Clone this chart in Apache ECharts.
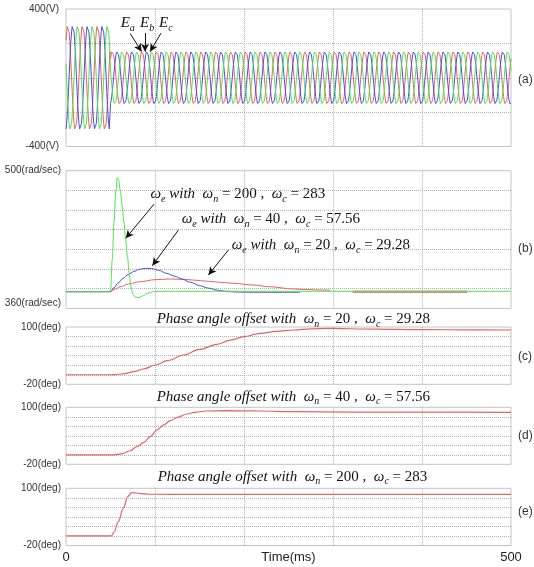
<!DOCTYPE html>
<html>
<head>
<meta charset="utf-8">
<script src="https://cdn.jsdelivr.net/npm/echarts@6/dist/echarts.min.js"></script>
<style>
  html, body { margin: 0; padding: 0; background: #fff; }
  #chart { width: 534px; height: 567px; }
</style>
</head>
<body>
<div id="chart"></div>
<script>
// ---------- (a) three-phase voltages ----------
// one 60 Hz cycle, 24 samples, normalised
const waveCycle = [1, 0.966, 0.866, 0.707, 0.5, 0.259, 0, -0.259, -0.5, -0.707, -0.866, -0.966,
                   -1, -0.966, -0.866, -0.707, -0.5, -0.259, 0, 0.259, 0.5, 0.707, 0.866, 0.966];
const cyclePeriodMs = 1000 / 60;
const phaseNames = ['Ea', 'Eb', 'Ec'];
const phasePeakSample = [3, 11, 19];      // where each phase peaks inside the cycle
const amplitudeBefore = 308;              // V, before the step
const amplitudeAfter = 155;               // V, after the step
const stepTimeMs = 50;

// ---------- (b) estimated speed, [ms, rad/s] ----------
const omegaWn200 = [[0, 377], [50, 377], [52, 410], [54, 448], [56, 480], [57.7, 493], [59, 491], [61, 480],
  [63, 465], [65, 448], [67, 431], [69, 413], [71, 396], [73, 382], [75, 374.5], [78, 371.5], [82, 371],
  [87, 373], [92, 375.5], [98, 377], [110, 377.4], [500, 377.4]];
const omegaWn40 = [[0, 377], [50, 377], [54, 381], [58, 385.5], [64, 390.5], [70, 394.5], [76, 397.5],
  [82, 399.6], [89, 400.8], [96, 400.5], [104, 398.8], [113, 395.7], [122, 392.8], [130, 390], [140, 386.5],
  [150, 383.2], [160, 380.6], [170, 378.6], [180, 377.3], [190, 376.7], [210, 376.4], [263, 376.4]];
const omegaWn20 = [[0, 377], [50, 377], [55, 379.5], [61, 382], [70, 384.8], [83, 387.1], [100, 389.2],
  [117, 389.9], [135, 389.4], [151, 388.2], [170, 386.8], [188, 385.5], [210, 383.8], [229, 382],
  [256, 379.7], [280, 378.8], [297, 378.5]];
const omegaWn20Tail = [[322, 377], [451, 377]];

// ---------- (c)(d)(e) phase angle offset, [ms, deg] ----------
const phaseWn20 = [[0, 0], [50, 0], [57, 0.5], [66, 2.5], [76, 6.4], [88, 12.5], [100, 20.4], [115, 30],
  [132, 41.4], [150, 53], [169.5, 63.8], [185, 72.5], [200, 79.7], [218, 86.8], [236, 91], [256, 93.7],
  [275, 96], [293, 97.3], [310, 96.8], [330, 95.8], [370, 95], [405, 94.4], [450, 94], [500, 93.7]];
const phaseWn40 = [[0, 0], [51, 0], [58, 1], [64.4, 3.2], [72, 8.5], [79.5, 17], [87, 25.5], [95, 39],
  [102, 52.2], [110, 63], [117, 71.8], [126, 79.5], [135.7, 85.9], [146, 90], [158, 92.2], [180, 92.8],
  [203, 92.5], [218, 92.2], [256, 90.7], [320, 90], [400, 89.7], [500, 89.5]];
const phaseWn200 = [[0, 0], [51, 0], [54, 8], [58.8, 30], [64.4, 58], [69.3, 82.4], [73.8, 90.8],
  [77, 90.6], [81.3, 89.6], [88, 88.3], [94.4, 87.5], [150, 87.4], [500, 87.4]];

// axis end labels
const voltLabels = { '400': '400(V)', '-400': '-400(V)' };
const speedLabels = { '500': '500(rad/sec)', '360': '360(rad/sec)' };
const degLabels = { '100': '100(deg)', '-20': '-20(deg)' };
const timeLabels = { '0': '0', '500': '500' };

// annotation arrows [t0, v0, t1, v1] in data units (arrow head at the second point)
const voltArrows = [[72, 258, 85, 152], [88.8, 260, 88.8, 152], [106.8, 260, 94.4, 152]];
const speedArrows = [[98.9, 466, 67.1, 431.3], [126.3, 439.7, 97, 403.4], [182.5, 419.4, 160, 394]];

// ---------- build ----------
const dt = cyclePeriodMs / waveCycle.length;
const stepIndex = Math.round(stepTimeMs / dt);
const sampleCount = Math.round(500 / dt);
function phaseData(peak) {
  const out = [];
  for (let k = 0; k <= sampleCount; k++) {
    const amp = k < stepIndex ? amplitudeBefore : amplitudeAfter;
    const n = waveCycle.length;
    out.push([k * dt, amp * waveCycle[((k - peak) % n + n) % n]]);
  }
  return out;
}

const RED = '#e46464', BLUE = '#4b4be6', GREEN = '#4fe34f';
const sans = '"Liberation Sans", Arial, sans-serif';
const serif = '"Liberation Serif", "Times New Roman", serif';

const panels = [
  { top: 9, height: 137.5, min: -400, max: 400, interval: 200, labels: voltLabels },
  { top: 170.7, height: 137.7, min: 360, max: 500, interval: 20, labels: speedLabels },
  { top: 327, height: 57.3, min: -20, max: 100, interval: 20, labels: degLabels },
  { top: 407.3, height: 57, min: -20, max: 100, interval: 20, labels: degLabels },
  { top: 488.3, height: 57.2, min: -20, max: 100, interval: 20, labels: degLabels }
];

const grid = panels.map(p => ({
  left: 66, right: 23, top: p.top, height: p.height, show: true,
  outerBoundsMode: 'none', containLabel: false,
  borderColor: '#c4c4c4', borderWidth: 1, backgroundColor: 'transparent'
}));

const xAxis = panels.map((p, i) => ({
  gridIndex: i, type: 'value', min: 0, max: 500, interval: 100,
  axisLine: { show: false }, axisTick: { show: false },
  splitLine: { show: true, showMinLine: false, showMaxLine: false, lineStyle: { type: 'dotted', color: '#b0b0b0' } },
  axisLabel: {
    show: i === 4, margin: 5, color: '#222', fontFamily: sans, fontSize: 13,
    showMinLabel: true, showMaxLabel: true,
    formatter: v => timeLabels[String(v)] || ''
  },
  name: i === 4 ? 'Time(ms)' : '', nameLocation: 'middle', nameGap: 5, nameMoveOverlap: false,
  nameTextStyle: { color: '#222', fontFamily: sans, fontSize: 13, verticalAlign: 'top' }
}));

const yAxis = panels.map((p, i) => ({
  gridIndex: i, type: 'value', min: p.min, max: p.max, interval: p.interval,
  axisLine: { show: false }, axisTick: { show: false },
  splitLine: { show: true, showMinLine: false, showMaxLine: false, lineStyle: { type: 'dotted', color: '#b0b0b0' } },
  axisLabel: {
    margin: i === 0 ? 7 : 5, color: '#333', fontFamily: sans, fontSize: 10,
    showMinLabel: true, showMaxLabel: true, hideOverlap: false,
    formatter: v => {
      const s = p.labels[String(v)];
      if (!s) return '';
      return (i === 1 && v === p.min) ? '{lo|' + s + '}' : s;
    },
    rich: { lo: { padding: [0, 0, 11, 0], color: '#333', fontFamily: sans, fontSize: 10 } }
  }
}));

const arrowLine = (list) => ({
  silent: true, animation: false,
  symbol: ['none', 'arrow'], symbolSize: [6, 8],
  lineStyle: { color: '#111', width: 1, type: 'solid' },
  label: { show: false }, emphasis: { disabled: true },
  data: list.map(a => [{ coord: [a[0], a[1]] }, { coord: [a[2], a[3]] }])
});

const line = (name, data, color, gi, extra) => Object.assign({
  name, type: 'line', data, xAxisIndex: gi, yAxisIndex: gi,
  showSymbol: false, symbol: 'none', silent: true,
  lineStyle: { color, width: 1 }, itemStyle: { color }
}, extra || {});

const smoothOpts = { smooth: 0.35, smoothMonotone: 'x' };

const series = [
  line(phaseNames[0], phaseData(phasePeakSample[0]), RED, 0, { markLine: arrowLine(voltArrows) }),
  line(phaseNames[1], phaseData(phasePeakSample[1]), BLUE, 0),
  line(phaseNames[2], phaseData(phasePeakSample[2]), GREEN, 0),

  line('wn20', omegaWn20, RED, 1, smoothOpts),
  line('wn20 tail', omegaWn20Tail, '#d46a60', 1, { lineStyle: { color: '#d46a60', width: 2 } }),
  line('wn40', omegaWn40, BLUE, 1, smoothOpts),
  line('wn200', omegaWn200, GREEN, 1, Object.assign({ markLine: arrowLine(speedArrows) }, smoothOpts)),

  line('phase wn20', phaseWn20, RED, 2, Object.assign({ lineStyle: { color: RED, width: 1.2 } }, smoothOpts)),
  line('phase wn40', phaseWn40, RED, 3, Object.assign({ lineStyle: { color: RED, width: 1.2 } }, smoothOpts)),
  line('phase wn200', phaseWn200, RED, 4, Object.assign({ lineStyle: { color: RED, width: 1.2 } }, smoothOpts))
];

// rich-text styles for the math annotations
const rich = {
  i: { fontFamily: serif, fontStyle: 'italic', fontSize: 15, lineHeight: 20, fill: '#111' },
  r: { fontFamily: serif, fontSize: 15, lineHeight: 20, fill: '#111' },
  s: { fontFamily: serif, fontStyle: 'italic', fontSize: 10, lineHeight: 11, verticalAlign: 'bottom', fill: '#111' }
};
const mathText = (x, y, text) => ({
  type: 'text', x, y, silent: true,
  style: { text, rich, verticalAlign: 'middle', align: 'left', fill: '#111' }
});
const omegaLabel = (wn, wc) => '{i|ω}{s|e}{i| with  ω}{s|n}{r| = ' + wn + ' ,  }{i|ω}{s|c}{r| = ' + wc + '}';
const phaseTitle = (wn, wc) => '{i|Phase angle offset with  ω}{s|n}{r| = ' + wn + ' ,  }{i|ω}{s|c}{r| = ' + wc + '}';
const panelTag = (y, t) => ({
  type: 'text', x: 518, y, silent: true,
  style: { text: t, fill: '#333', font: '12px ' + sans, verticalAlign: 'middle', align: 'left' }
});

const graphic = [
  mathText(120.7, 23.3, '{i|E}{s|a}'),
  mathText(140, 23.3, '{i|E}{s|b}'),
  mathText(159, 23.3, '{i|E}{s|c}'),
  mathText(150.5, 194, omegaLabel(200, 283)),
  mathText(181.7, 219.3, omegaLabel(40, 57.56)),
  mathText(231.7, 245, omegaLabel(20, 29.28)),
  mathText(156.7, 319, phaseTitle(20, 29.28)),
  mathText(156.7, 396.7, phaseTitle(40, 57.56)),
  mathText(157.7, 476.7, phaseTitle(200, 283)),
  panelTag(80, '(a)'), panelTag(249, '(b)'), panelTag(356.7, '(c)'), panelTag(436, '(d)'), panelTag(511.7, '(e)')
];

const chart = echarts.init(document.getElementById('chart'), null, { renderer: 'canvas' });
chart.setOption({
  animation: false,
  backgroundColor: '#fff',
  grid, xAxis, yAxis, series, graphic
});
</script>
</body>
</html>
